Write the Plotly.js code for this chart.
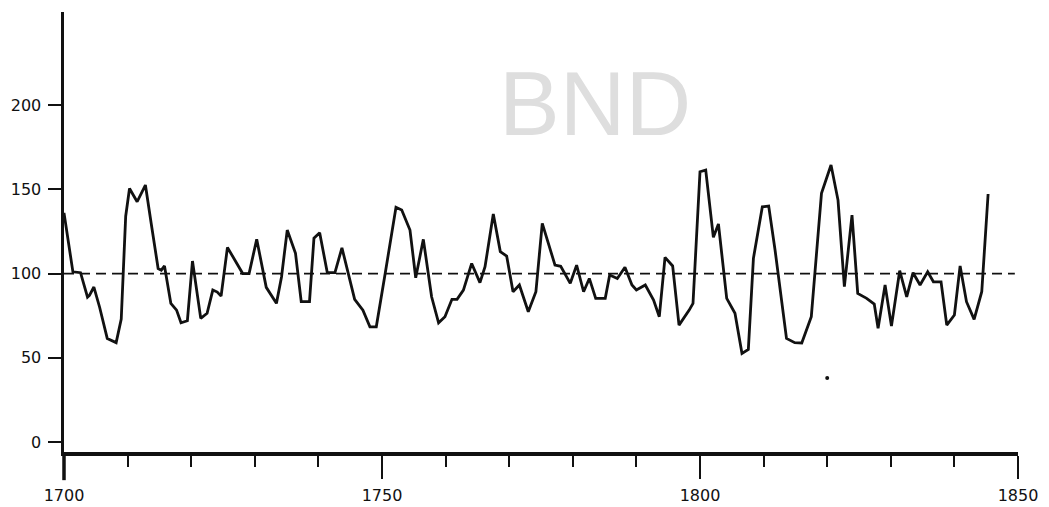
<!DOCTYPE html>
<html>
<head>
<meta charset="utf-8">
<script src="https://cdn.plot.ly/plotly-3.0.1.min.js"></script>
<style>
  html, body { margin: 0; padding: 0; background: #ffffff; }
  #chart { width: 1049px; height: 507px; }
</style>
</head>
<body>
<div id="chart"></div>
<script>
// Series (year, index value)
const years = [
  1700.0, 1701.4, 1702.6, 1703.7, 1704.0, 1704.7, 1705.6, 1706.8, 1708.2, 1709.0,
  1709.7, 1710.3, 1711.5, 1712.8, 1713.7, 1714.8, 1715.3, 1715.8, 1716.8, 1717.7,
  1718.4, 1719.4, 1720.2, 1721.5, 1722.5, 1723.4, 1724.1, 1724.7, 1725.7, 1726.8,
  1728.1, 1729.1, 1730.3, 1731.8, 1733.4, 1734.2, 1735.1, 1736.4, 1737.3, 1738.6,
  1739.3, 1740.2, 1741.4, 1742.6, 1743.7, 1745.7, 1747.0, 1748.1, 1749.1, 1750.5,
  1752.2, 1753.1, 1754.4, 1755.3, 1756.5, 1757.8, 1758.9, 1759.9, 1761.0, 1761.8,
  1762.8, 1764.1, 1765.4, 1766.2, 1767.5, 1768.6, 1769.6, 1770.6, 1771.6, 1773.0,
  1774.2, 1775.2, 1777.2, 1778.1, 1779.6, 1780.6, 1781.7, 1782.6, 1783.6, 1785.1,
  1785.8, 1787.0, 1788.2, 1789.3, 1790.0, 1791.4, 1792.7, 1793.6, 1794.5, 1795.7,
  1796.7, 1798.3, 1798.9, 1800.0, 1800.9, 1802.1, 1802.9, 1804.2, 1805.5, 1806.6,
  1807.6, 1808.4, 1809.8, 1810.8, 1811.8, 1813.6, 1814.9, 1816.0, 1817.5, 1819.1,
  1820.6, 1821.7, 1822.7, 1823.9, 1824.8, 1826.2, 1827.4, 1828.0, 1829.1, 1830.1,
  1831.4, 1832.5, 1833.5, 1834.6, 1835.8, 1836.7, 1837.9, 1838.8, 1840.0, 1840.9,
  1841.9, 1843.1, 1844.3, 1845.3
];
const values = [
  136, 101, 100.5, 86, 87, 92, 80, 61.5, 59, 73,
  134, 150.5, 142.6, 152.5, 130, 103, 102, 104.5, 82.3, 78.3,
  70.8, 72, 107.4, 73.4, 76.4, 90.2, 89, 86.6, 115.5, 108,
  100, 100, 120.3, 91.8, 82.3, 98, 125.8, 112, 83.3, 83.3,
  121, 124.2, 100.5, 100.5, 115.3, 84.7, 78.3, 68.4, 68.4, 100,
  139.3, 137.7, 125.8, 97.5, 120.3, 86.2, 70.8, 74.4, 84.7, 84.7,
  90.2, 106, 94.6, 104, 135.3, 113, 110.4, 89.2, 93.2, 77.3,
  89.2, 129.8, 105, 104.3, 94.2, 105, 89.2, 97.1, 85.3, 85.3,
  99.1, 97.1, 103.7, 93.2, 90.2, 93.2, 84.3, 74.4, 109.6, 104.5,
  69.4, 78.3, 82.3, 160.4, 161.4, 121.5, 129.4, 85.3, 76.4, 52.6,
  55, 109, 139.6, 140, 114, 61.5, 59, 58.8, 74.4, 147.6,
  164.4, 143.6, 92.2, 134.7, 88.2, 85.3, 81.9, 67.5, 93.2, 68.8,
  101.7, 86.2, 100.5, 93.2, 101, 95.1, 95.1, 69.4, 75.4, 104.5,
  83.3, 72.8, 89.2, 147.2
];
const meanYears = [1700, 1849.5];
const meanValues = [100, 100];
const strayYears = [1820.0];
const strayValues = [38];
const xTickVals = [1700, 1750, 1800, 1850];
const xTickText = ["1700", "1750", "1800", "1850"];
const yTickVals = [0, 50, 100, 150, 200];
const yTickText = ["0", "50", "100", "150", "200"];
const watermark = "BND";

const traces = [
  {
    x: meanYears, y: meanValues, type: 'scatter', mode: 'lines',
    line: { color: '#111111', width: 1.7, dash: '10px,6px' },
    hoverinfo: 'skip'
  },
  {
    x: years, y: values, type: 'scatter', mode: 'lines',
    line: { color: '#111111', width: 2.8 }
  },
  {
    x: strayYears, y: strayValues, type: 'scatter', mode: 'markers',
    marker: { color: '#111111', size: 4 }
  }
];

const tickFont = { family: 'DejaVu Sans, sans-serif', size: 16, color: '#111111' };

const layout = {
  width: 1049, height: 507,
  margin: { l: 64, r: 31, t: 12, b: 55 },
  paper_bgcolor: '#ffffff', plot_bgcolor: '#ffffff',
  showlegend: false,
  xaxis: {
    range: [1700, 1850],
    tickvals: xTickVals, ticktext: xTickText,
    ticks: 'outside', ticklen: 23, tickwidth: 2, tickcolor: '#111111',
    ticklabelstandoff: 3,
    minor: { tick0: 1700, dtick: 10, ticks: 'outside', ticklen: 11, tickwidth: 2, tickcolor: '#111111', showgrid: false },
    showline: true, linewidth: 3.5, linecolor: '#111111',
    showgrid: false, zeroline: false,
    tickfont: tickFont, fixedrange: true
  },
  yaxis: {
    range: [-5.9, 255.2],
    tickvals: yTickVals, ticktext: yTickText,
    ticks: 'outside', ticklen: 13, tickwidth: 2, tickcolor: '#111111',
    ticklabelstandoff: 3,
    showline: true, linewidth: 3.5, linecolor: '#111111',
    showgrid: false, zeroline: false,
    tickfont: tickFont, fixedrange: true
  },
  shapes: [
    { type: 'line', xref: 'paper', yref: 'paper', x0: 0, x1: 0, y0: -0.064, y1: 0,
      line: { color: '#111111', width: 3.5 } }
  ],
  annotations: [
    { text: watermark, x: 1783.5, y: 201, xref: 'x', yref: 'y', showarrow: false,
      xanchor: 'center', yanchor: 'middle',
      font: { family: 'Liberation Sans, Arial, sans-serif', size: 91, color: '#dedede' } }
  ]
};

Plotly.newPlot('chart', traces, layout, { staticPlot: true, displayModeBar: false });
</script>
</body>
</html>
